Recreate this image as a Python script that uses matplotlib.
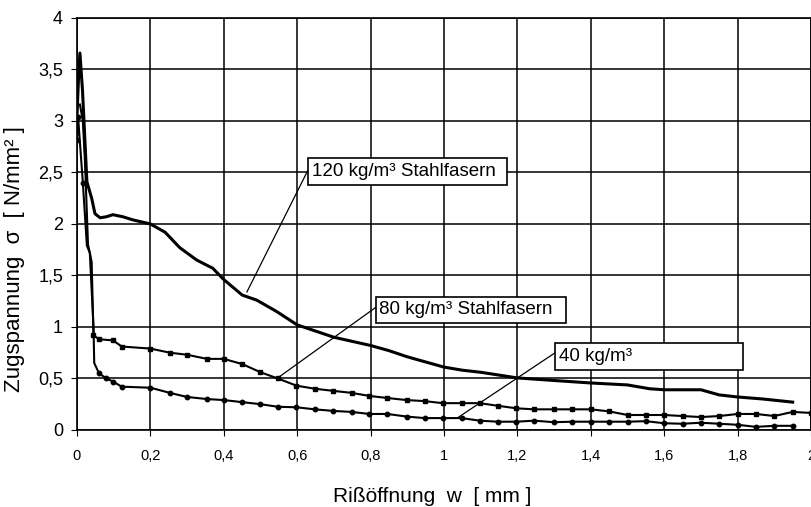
import numpy as np
import matplotlib.pyplot as plt
import matplotlib.patches as patches
from matplotlib.ticker import FuncFormatter

plt.rcParams['font.family'] = ['Liberation Sans', 'DejaVu Sans']

# 120 kg/m3 curve (no markers)
w120 = [0.0, 0.004, 0.008, 0.015, 0.027, 0.04, 0.049, 0.063, 0.08, 0.098, 0.125, 0.152, 0.2,
        0.24, 0.28, 0.326, 0.37, 0.40, 0.45, 0.49, 0.544, 0.6, 0.65, 0.7, 0.75, 0.8, 0.85,
        0.9, 0.95, 1.0, 1.05, 1.1, 1.2, 1.3, 1.4, 1.5, 1.56, 1.6, 1.7, 1.75, 1.8, 1.87, 1.95]
s120 = [3.05, 3.4, 3.66, 3.3, 2.41, 2.25, 2.1, 2.06, 2.07, 2.09, 2.07, 2.04, 2.0,
        1.92, 1.77, 1.65, 1.57, 1.46, 1.31, 1.26, 1.15, 1.02, 0.96, 0.9, 0.86, 0.82, 0.77,
        0.71, 0.66, 0.61, 0.58, 0.56, 0.505, 0.48, 0.456, 0.437, 0.40, 0.39, 0.39, 0.34, 0.32, 0.30, 0.27]

# 80 kg/m3 curve (square markers)
w80 = [0.008, 0.016, 0.022, 0.03, 0.035, 0.04, 0.045, 0.06, 0.098, 0.122, 0.2, 0.253, 0.30, 0.354,
       0.4, 0.45, 0.5, 0.547, 0.598, 0.648, 0.697, 0.748, 0.797, 0.846, 0.898, 0.947, 0.996,
       1.048, 1.097, 1.146, 1.197, 1.246, 1.3, 1.35, 1.4, 1.45, 1.5, 1.55, 1.6, 1.65, 1.7,
       1.75, 1.8, 1.85, 1.9, 1.95, 2.0]
s80 = [3.16, 3.0, 2.59, 1.8, 1.72, 1.63, 0.92, 0.88, 0.87, 0.81, 0.79, 0.75, 0.73, 0.69,
       0.69, 0.64, 0.56, 0.50, 0.43, 0.40, 0.38, 0.36, 0.33, 0.31, 0.29, 0.28, 0.26,
       0.26, 0.26, 0.235, 0.21, 0.20, 0.20, 0.20, 0.20, 0.18, 0.145, 0.145, 0.145, 0.135, 0.125,
       0.135, 0.155, 0.155, 0.135, 0.175, 0.165]

# 40 kg/m3 curve (round markers)
w40 = [0.0, 0.003, 0.016, 0.027, 0.035, 0.045, 0.047, 0.06, 0.08, 0.098, 0.122, 0.2, 0.253, 0.30,
       0.354, 0.4, 0.45, 0.5, 0.547, 0.598, 0.648, 0.697, 0.748, 0.797, 0.846, 0.898, 0.947,
       0.996, 1.048, 1.097, 1.146, 1.197, 1.246, 1.3, 1.35, 1.4, 1.45, 1.5, 1.55, 1.6, 1.65,
       1.7, 1.75, 1.8, 1.85, 1.9, 1.95]
s40 = [2.82, 3.04, 2.4, 1.79, 1.72, 1.0, 0.65, 0.55, 0.5, 0.47, 0.42, 0.41, 0.36, 0.32,
       0.30, 0.29, 0.27, 0.25, 0.225, 0.22, 0.20, 0.185, 0.175, 0.155, 0.155, 0.13, 0.115,
       0.115, 0.115, 0.09, 0.08, 0.08, 0.09, 0.075, 0.08, 0.08, 0.08, 0.08, 0.085, 0.065, 0.06,
       0.07, 0.06, 0.05, 0.03, 0.04, 0.04]

labels = ['120 kg/m³ Stahlfasern', '80 kg/m³ Stahlfasern', '40 kg/m³']

fig = plt.figure(figsize=(8.12, 5.07), dpi=100)
ax = fig.add_axes([0.0948, 0.152, 0.904, 0.8125])

ax.plot(w120, s120, color='black', lw=2.2)
ax.plot(w80, s80, color='black', lw=1.5, marker='s', ms=3.5, markevery=list(range(6, len(w80))))
ax.plot(w40, s40, color='black', lw=1.5, marker='o', ms=3.2, markevery=[0, 1, 2] + list(range(7, len(w40))))

ax.set_xlim(0, 2)
ax.set_ylim(0, 4)
ax.set_xticks(np.arange(0, 2.01, 0.2))
ax.set_yticks(np.arange(0, 4.01, 0.5))
fmt = FuncFormatter(lambda v, p: ('%g' % round(v, 2)).replace('.', ','))
ax.xaxis.set_major_formatter(fmt)
ax.yaxis.set_major_formatter(fmt)
ax.tick_params(direction='out', length=4, color='black')
ax.tick_params(axis='x', labelsize=10.5, pad=10)
ax.tick_params(axis='y', labelsize=13, pad=6)
ax.grid(True, color='black', lw=1.1)
for sp in ax.spines.values():
    sp.set_color('black')
    sp.set_linewidth(1.2)

fig.text(432 / 812, 1 - 496 / 507, 'Rißöffnung  w  [ mm ]', fontsize=15,
         ha='center', va='center')
fig.text(15 / 812, 1 - 259 / 507, 'Zugspannung  σ  [ N/mm² ]', fontsize=16,
         ha='center', va='center', rotation=90)

# annotation boxes: (box x0, x1, y0, y1), text pos, leader line
boxes = [((0.629, 1.173, 2.38, 2.64), (0.639, 2.51), ((0.463, 1.34), (0.629, 2.52))),
         ((0.814, 1.333, 1.04, 1.29), (0.824, 1.165), ((0.547, 0.505), (0.814, 1.19))),
         ((1.303, 1.815, 0.583, 0.845), (1.314, 0.714), ((1.04, 0.125), (1.303, 0.75)))]
for lab, (b, t, l) in zip(labels, boxes):
    ax.add_patch(patches.Rectangle((b[0], b[2]), b[1] - b[0], b[3] - b[2],
                                   fc='white', ec='black', lw=1.2, zorder=5))
    ax.text(t[0], t[1], lab, fontsize=13.5, va='center', ha='left', zorder=6)
    ax.plot([l[0][0], l[1][0]], [l[0][1], l[1][1]], color='black', lw=0.9, zorder=4)

fig.savefig('out.png', dpi=100)
